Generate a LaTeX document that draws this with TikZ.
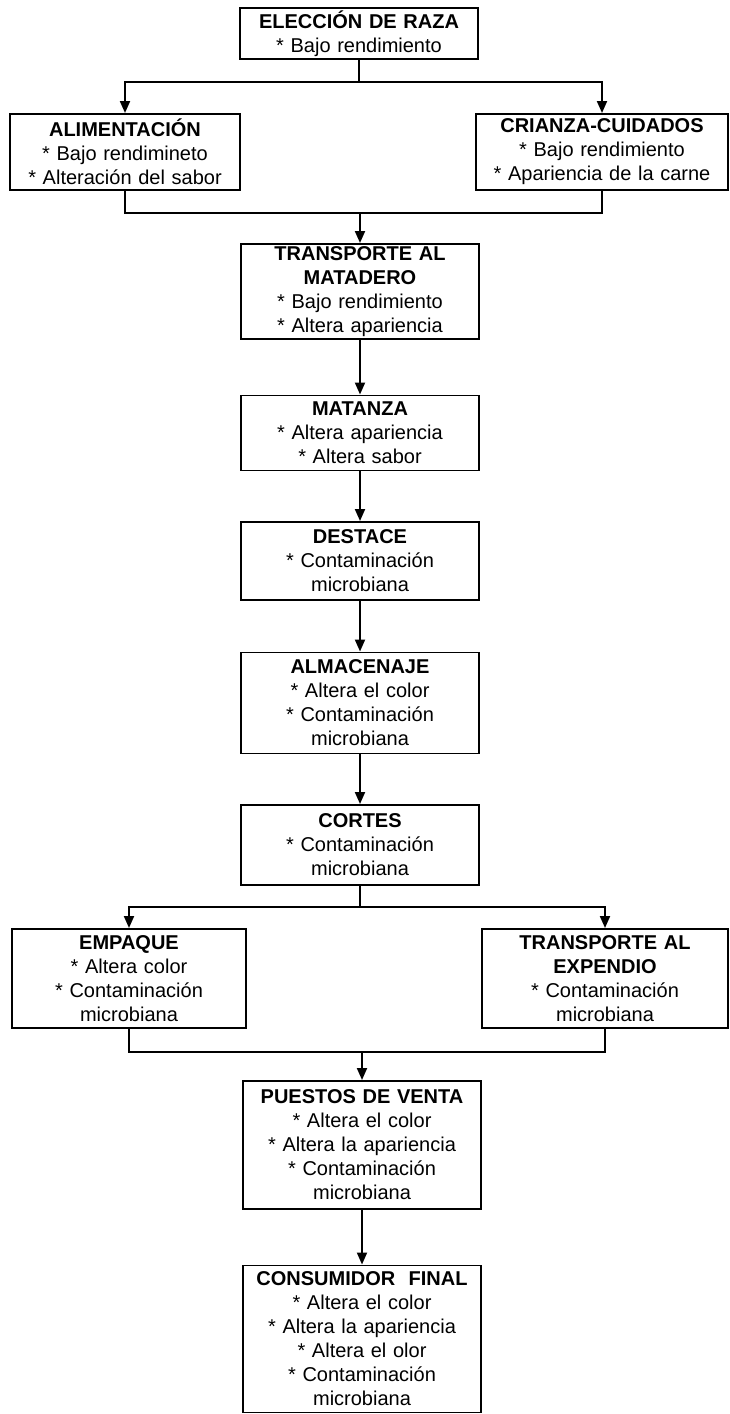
\documentclass[tikz,border=0pt]{standalone}
\usepackage{fontspec}
\setmainfont{Liberation Sans}
\usetikzlibrary{positioning,arrows.meta}

\begin{document}
\begin{tikzpicture}[x=1pt, y=1pt,
      caja/.style={draw, line width=1.5pt, align=center, inner xsep=3pt, inner ysep=2pt,
         font=\fontsize{20}{24}\selectfont, text width=#1},
      caja/.default=232pt,
      linea/.style={line width=2pt},
      flecha/.style={line width=2pt, -{Triangle[length=12pt,width=10pt]}}]
      \useasboundingbox (0,0) rectangle (730,-1414);
      \node[caja, anchor=north, minimum height=51pt] (raza) at (359,-7)
         {\textbf{ELECCIÓN DE RAZA}\\{*} Bajo rendimiento};
      \node[caja=224pt, anchor=north, minimum height=76pt] (alim) at (125,-113)
         {\textbf{ALIMENTACIÓN}\\{*} Bajo rendimineto\\{*} Alteración del sabor};
      \node[caja=246pt, anchor=north, minimum height=76pt] (cria) at (602,-113)
         {\textbf{CRIANZA-CUIDADOS}\\{*} Bajo rendimiento\\{*} Apariencia de la carne};
      \node[caja, anchor=north, minimum height=95pt] (trans) at (360,-243)
         {\textbf{TRANSPORTE AL}\\\textbf{MATADERO}\\{*} Bajo rendimiento\\{*} Altera apariencia};
      \node[caja, below=55pt of trans, minimum height=75pt] (mat)
         {\textbf{MATANZA}\\{*} Altera apariencia\\{*} Altera sabor};
      \node[caja, below=50pt of mat, minimum height=78pt] (dest)
         {\textbf{DESTACE}\\{*} Contaminación\\microbiana};
      \node[caja, below=51pt of dest, minimum height=101pt] (alm)
         {\textbf{ALMACENAJE}\\{*} Altera el color\\{*} Contaminación\\microbiana};
      \node[caja, below=50pt of alm, minimum height=80pt] (cort)
         {\textbf{CORTES}\\{*} Contaminación\\microbiana};
      \node[caja=228pt, anchor=north, minimum height=99pt] (emp) at (129,-928)
         {\textbf{EMPAQUE}\\{*} Altera color\\{*} Contaminación\\microbiana};
      \node[caja=240pt, anchor=north, minimum height=99pt] (expe) at (605,-928)
         {\textbf{TRANSPORTE AL}\\\textbf{EXPENDIO}\\{*} Contaminación\\microbiana};
      \node[caja, anchor=north, minimum height=128pt] (pv) at (362,-1080)
         {\textbf{PUESTOS DE VENTA}\\{*} Altera el color\\{*} Altera la apariencia\\{*} Contaminación\\microbiana};
      \node[caja, below=55pt of pv, minimum height=147pt] (cf)
         {\textbf{CONSUMIDOR~~FINAL}\\{*} Altera el color\\{*} Altera la apariencia\\{*} Altera el olor\\{*} Contaminación\\microbiana};
      \coordinate[below=22pt of raza] (s1);
      \coordinate[above=30pt of trans] (j1);
      \coordinate[below=21pt of cort] (s2);
      \coordinate[above=28pt of pv] (j2);
      \draw[linea] (raza) -- (s1);
      \draw[flecha] (s1) -| (alim);
      \draw[flecha] (s1) -| (cria);
      \draw[linea] (alim) |- (j1) -| (cria);
      \draw[flecha] (j1) -- (trans);
      \draw[linea] (cort) -- (s2);
      \draw[flecha] (s2) -| (emp);
      \draw[flecha] (s2) -| (expe);
      \draw[linea] (emp) |- (j2) -| (expe);
      \draw[flecha] (j2) -- (pv);
      \foreach \a/\b in {trans/mat, mat/dest, dest/alm, alm/cort, pv/cf}
         \draw[flecha] (\a) -- (\b);
\end{tikzpicture}
\end{document}
